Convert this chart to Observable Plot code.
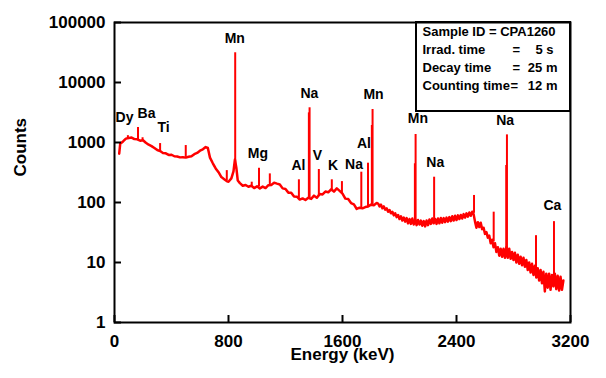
<!DOCTYPE html>
<html><head><meta charset="utf-8">
<script src="https://cdn.jsdelivr.net/npm/d3@7"></script>
<script src="https://cdn.jsdelivr.net/npm/@observablehq/plot@0.6"></script>
<style>
body{margin:0;background:#fff;}
#wrap{position:relative;width:606px;height:378px;}
#box{position:absolute;left:415px;top:21px;width:156px;height:91px;border:2px solid #000;box-sizing:border-box;pointer-events:none;}
</style></head><body>
<div id="wrap"><div id="box"></div></div>
<script>
// continuum of the gamma spectrum (energy in keV, counts)
const energy = [33,40,60,80,100,120,140,160,180,200,220,240,260,280,300,320,340,360,380,400,
420,440,460,480,500,520,540,560,580,600,620,640,655,670,690,710,730,750,770,790,
800,820,835,845,855,865,880,900,920,940,960,980,1000,1020,1040,1060,1080,1100,1120,1140,
1160,1180,1200,1220,1240,1260,1280,1300,1320,1340,1360,1380,1400,1420,1440,1460,1480,1500,1520,1540,
1560,1580,1600,1620,1640,1660,1680,1700,1720,1740,1760,1780,1800,1820,1840,
1850,1860,1870,1880,1890,1900,1910,1920,1930,1940,1950,1960,1970,1980,1990,2000,2010,2020,2030,2040,
2050,2060,2070,2080,2090,2100,2110,2120,2130,2140,2150,2160,2170,2180,2190,2200,2210,2220,2230,2240,
2250,2260,2270,2280,2290,2300,2310,2320,2330,2340,2350,2360,2370,2380,2390,2400,2410,2420,2430,2440,
2450,2460,2470,2480,2490,2500,2510,2520,2530,2540,2550,2560,2570,2580,2590,2600,2610,2620,2630,2640,
2650,2660,2670,2680,2690,2700,2710,2720,2730,2740,2750,2760,2770,2780,2790,2800,2810,2820,2830,2840,
2850,2860,2870,2880,2890,2900,2910,2920,2930,2940,2950,2960,2970,2980,2990,3000,3010,3020,3030,3040,
3050,3060,3070,3080,3090,3100,3110,3120,3130,3140,3150];
const counts = [650,950,1040,1160,1190,1210,1140,1130,1070,1090,990,920,870,810,750,720,670,660,620,625,
590,585,565,570,560,580,590,640,670,730,770,840,810,560,450,370,320,265,245,225,
222,252,330,520,380,232,210,190,196,183,190,174,186,172,184,174,194,196,214,206,
200,172,168,146,146,126,125,112,117,110,120,115,130,120,138,136,152,148,166,152,
172,156,140,116,114,98,93,78,82,80,84,86,92,90,98,
96,86,92,80,86,76,80,70,75,66,70,61,66,57,62,53,59,50,56,48,
55,45,53,44,54,43,52,42,51,43,50,41,49,40,50,42,52,44,54,45,
53,44,54,45,55,46,55,47,56,48,57,49,59,50,60,51,61,53,62,54,
64,56,66,58,68,60,70,64,48,38,47,39,46,36,38,30,32,26,28,21,
24,18,21,15,18,13,17,12.5,17,12,18,12,17,11.5,15,11,14.5,10,13.5,9.5,
12.5,9,12,8.5,11,7.5,10,6.8,9.5,6.2,8.8,5.6,8,5,7.5,4.5,7,3.3,6.5,3.8,
6.5,3.5,6.2,4,6.5,3.6,6,3.4,5.8,3.5,5];

// peaks (energy, top counts, base counts)
const peakEnergy = [94,165,197,320,500,788,847,963,1014,1090,1294,1364,1369,1434,1525,1596,1732,1779,1806,1811,2108,2113,2243,2523,2661,2749,2754,2958,3084];
const peakTop    = [1300,1780,1200,960,890,340,31300,218,372,300,239,3120,3790,355,239,223,320,452,1920,3550,442,1360,264,131,69,414,1340,28,48];
const peakBase   = [1150,1100,1070,710,565,230,400,180,182,195,117,118,118,127,160,140,79,85,90,90,49,49,50,66,22,15,15,7,5];

// element labels
const labelText   = ["Dy","Ba","Ti","Mn","Mg","Al","V","K","Na","Na","Al","Mn","Mn","Na","Na","Ca"];
const labelEnergy = [70,225,345,844,1006,1291,1424,1533,1368,1681,1750,1818,2129,2251,2741,3073];
const labelCounts = [2560,3040,1810,54100,656,406,607,406,6560,433,951,6360,2512,464,2300,89];

const xTicks = [0,800,1600,2400,3200];
const yTicks = [1,10,100,1000,10000,100000];

const infoLabels = ["Sample ID = CPA1260","Irrad. time","Decay time","Counting time"];
const infoEquals = ["","=","=","="];
const infoValues = ["","5 s","25 m","12 m"];

const spectrum = energy.map((e,i)=>({e, c: counts[i]}));
const peaks = peakEnergy.map((e,i)=>({e, t: peakTop[i], b: peakBase[i]}));
const labels = labelText.map((t,i)=>({t, e: labelEnergy[i], c: labelCounts[i]}));

// layout offsets of the info box lines (pixels from the top-left of the frame)
const lineDy = [13, 31, 49.5, 67];
const eqDx = [0, 398, 398, 396];
const valDx = [0, 439, 443, 443];
const infoFont = {fontSize: 13, fontWeight: "bold", frameAnchor: "top-left", lineAnchor: "bottom"};
const infoMarks = [];
infoLabels.forEach((s, i) => {
  infoMarks.push(Plot.text([s], {...infoFont, textAnchor: "start", dx: 308, dy: lineDy[i]}));
  if (infoEquals[i]) infoMarks.push(Plot.text([infoEquals[i]], {...infoFont, textAnchor: "start", dx: eqDx[i], dy: lineDy[i]}));
  if (infoValues[i]) infoMarks.push(Plot.text([infoValues[i]], {...infoFont, textAnchor: "end", dx: valDx[i], dy: lineDy[i]}));
});

const chart = Plot.plot({
  width: 606, height: 378,
  marginLeft: 114, marginRight: 36, marginTop: 22, marginBottom: 56,
  style: {fontFamily: "Arial, 'Liberation Sans', sans-serif", fontWeight: "bold", fontSize: "17px", background: "white", color: "black"},
  x: {domain: [0, 3200]},
  y: {type: "log", domain: [1, 100000]},
  marks: [
    Plot.line(spectrum, {x: "e", y: "c", stroke: "#ff0000", strokeWidth: 2.5}),
    Plot.ruleX(peaks, {x: "e", y1: "b", y2: "t", stroke: "#ff0000", strokeWidth: 2}),
    Plot.frame({strokeWidth: 2}),
    Plot.axisX(xTicks, {tickSize: -7, tickPadding: 19, tickFormat: d => String(d), label: null, strokeWidth: 2}),
    Plot.axisY(yTicks, {tickSize: -7, tickPadding: 16, tickFormat: d => String(d), label: null, strokeWidth: 2}),
    Plot.text(labels, {x: "e", y: "c", text: "t", fontSize: 14, fontWeight: "bold"}),
    Plot.text(["Energy (keV)"], {frameAnchor: "bottom", dy: 37, fontSize: 17, fontWeight: "bold"}),
    Plot.text(["Counts"], {frameAnchor: "left", dx: -94, dy: 4, rotate: -90, fontSize: 17, fontWeight: "bold"}),
    ...infoMarks
  ]
});
document.getElementById("wrap").prepend(chart);
</script>
</body></html>
